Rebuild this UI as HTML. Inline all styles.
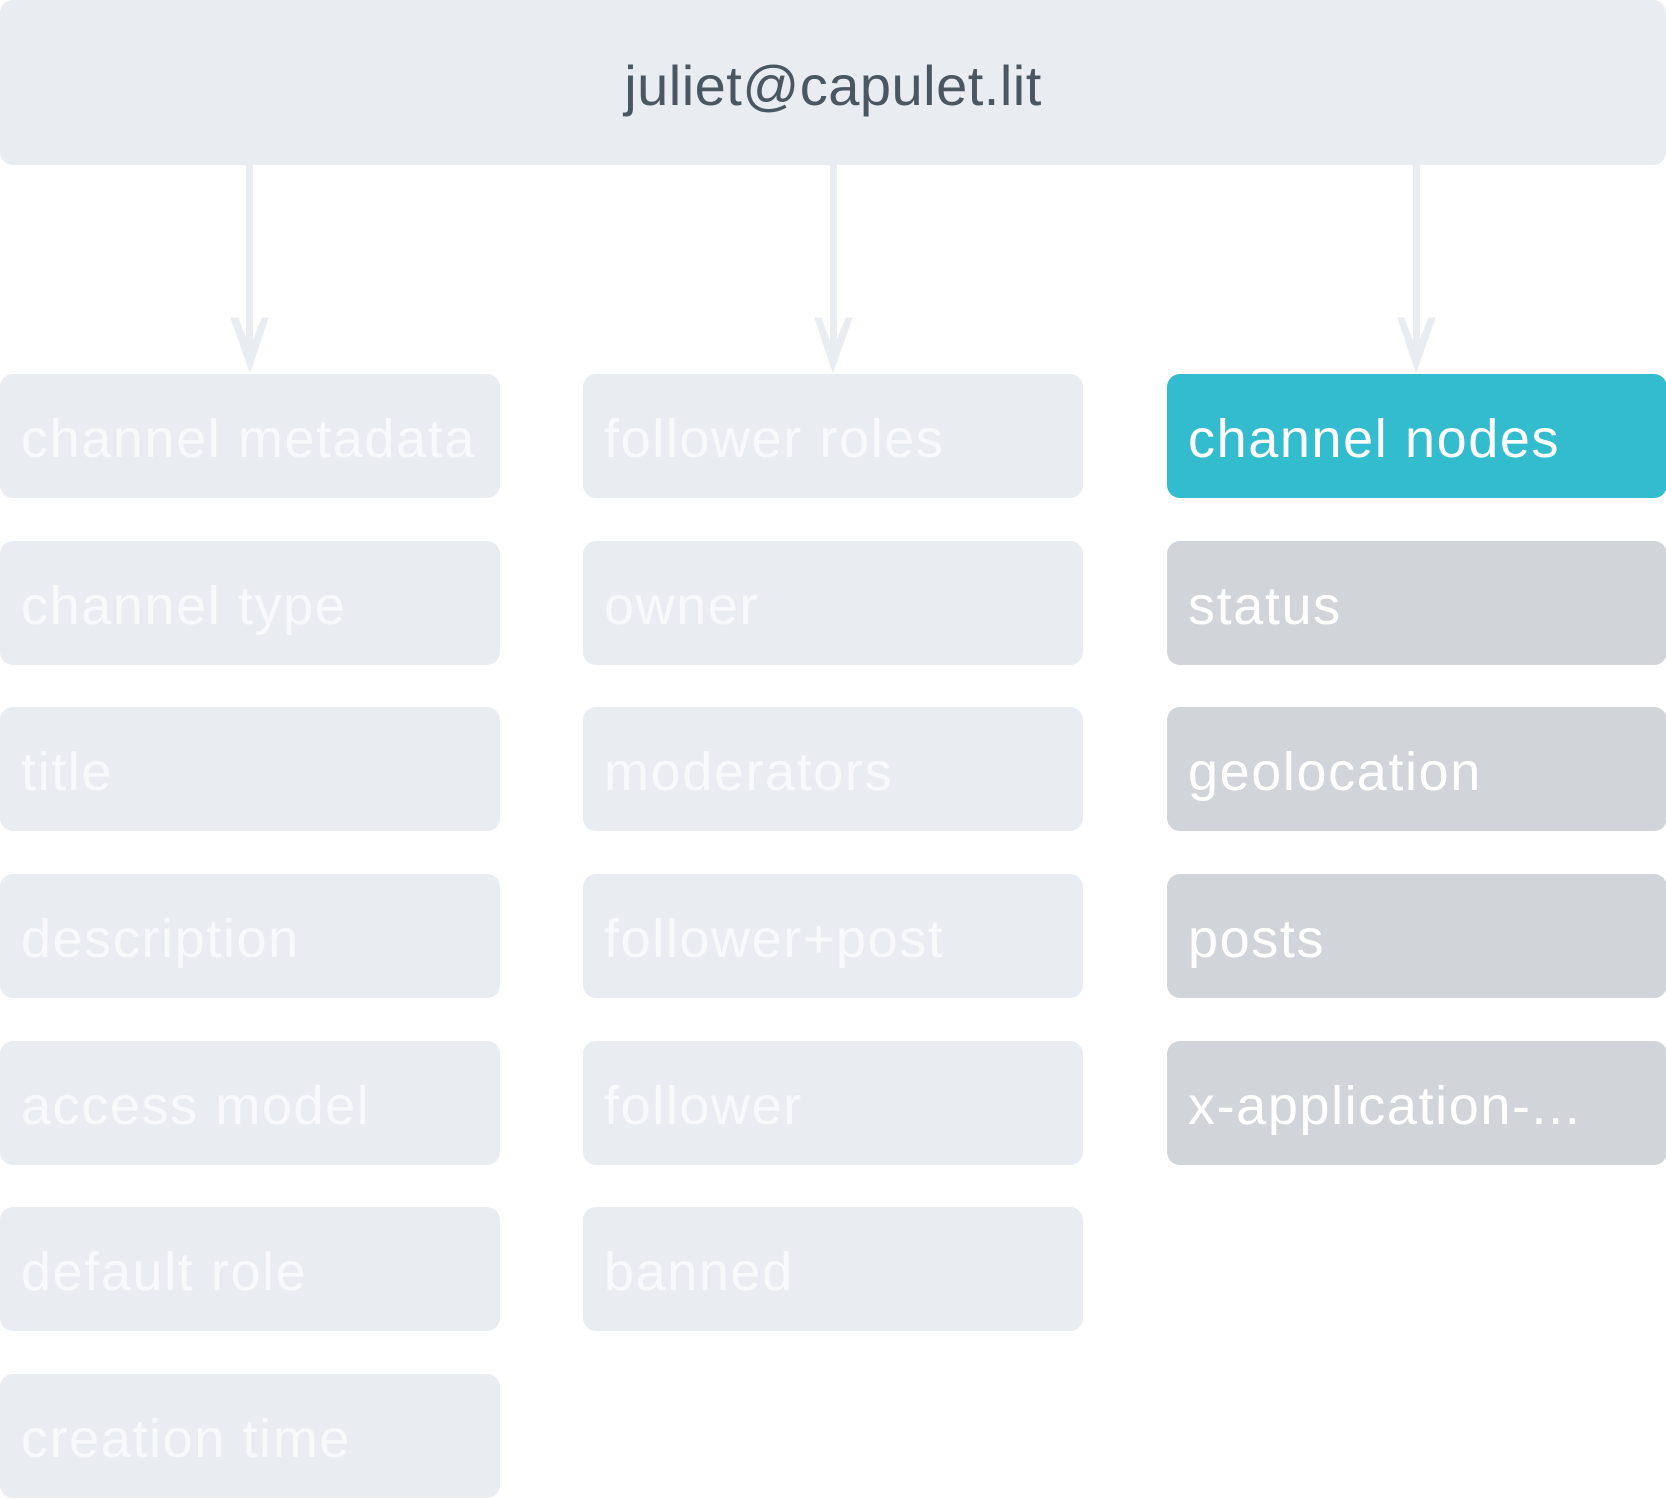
<!DOCTYPE html>
<html><head><meta charset="utf-8"><style>
body{margin:0;width:1666px;height:1499px;background:#fff;position:relative;overflow:hidden;font-family:"Liberation Sans",sans-serif}
.b{position:absolute;border-radius:13px;background:#e9ecf1;color:#f8f9fb;font-size:54px;line-height:130px;height:124px;width:500px;padding-left:21px;box-sizing:border-box;white-space:nowrap;letter-spacing:1.6px;overflow:hidden}
.t{background:#33bccd;color:#fff}
.g{background:#d1d4d9;color:#fff}
</style></head><body>
<div class="b" style="left:0;top:0;width:1666px;height:165px;line-height:172px;text-align:center;padding:0;color:#4a5660;font-size:56px;letter-spacing:0.5px">juliet@capulet.lit</div>
<svg width="1666" height="1499" style="position:absolute;left:0;top:0">
<g fill="#e9ecf1" stroke="#e9ecf1">
<rect x="246" y="165" width="7" height="190" stroke="none"/>
<rect x="830" y="165" width="7" height="190" stroke="none"/>
<rect x="1413" y="165" width="7" height="190" stroke="none"/>
<polygon points="231,318 250,372 268,318 262,318 250,350 238,318"/>
<polygon points="815,318 833,372 852,318 846,318 833,350 821,318"/>
<polygon points="1398,318 1416,372 1435,318 1429,318 1416,350 1404,318"/>
</g></svg>
<div class="b" style="left:0;top:374px">channel metadata</div>
<div class="b" style="left:0;top:541px">channel type</div>
<div class="b" style="left:0;top:707px">title</div>
<div class="b" style="left:0;top:874px">description</div>
<div class="b" style="left:0;top:1041px">access model</div>
<div class="b" style="left:0;top:1207px">default role</div>
<div class="b" style="left:0;top:1374px">creation time</div>
<div class="b" style="left:583px;top:374px">follower roles</div>
<div class="b" style="left:583px;top:541px">owner</div>
<div class="b" style="left:583px;top:707px">moderators</div>
<div class="b" style="left:583px;top:874px">follower+post</div>
<div class="b" style="left:583px;top:1041px">follower</div>
<div class="b" style="left:583px;top:1207px">banned</div>
<div class="b t" style="left:1167px;top:374px">channel nodes</div>
<div class="b g" style="left:1167px;top:541px">status</div>
<div class="b g" style="left:1167px;top:707px">geolocation</div>
<div class="b g" style="left:1167px;top:874px">posts</div>
<div class="b g" style="left:1167px;top:1041px">x-application-...</div>
</body></html>
